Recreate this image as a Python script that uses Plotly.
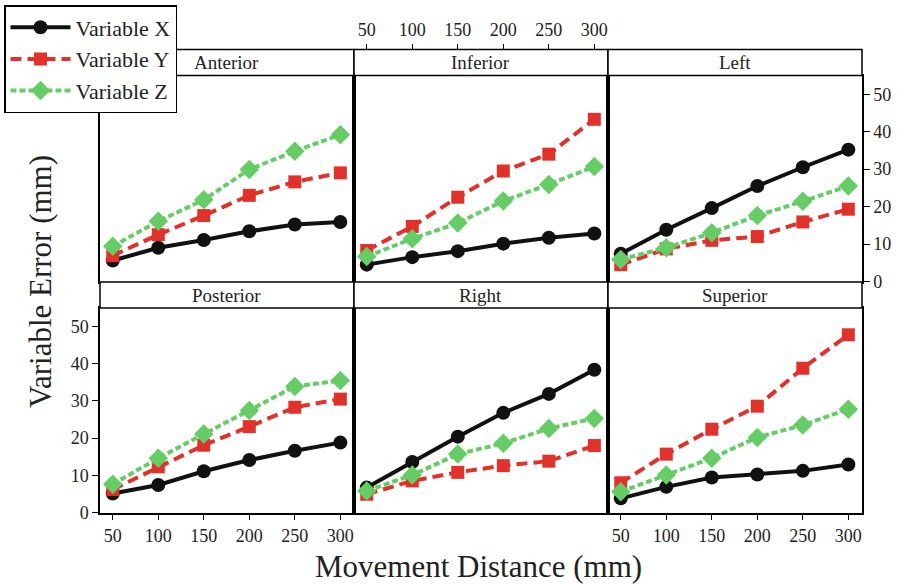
import plotly.graph_objects as go

# ---------------- data ----------------
distance = [50, 100, 150, 200, 250, 300]
x_ticks = [50, 100, 150, 200, 250, 300]
y_ticks = [0, 10, 20, 30, 40, 50]
panel_names = ["Anterior", "Inferior", "Left", "Posterior", "Right", "Superior"]
series_names = ["Variable X", "Variable Y", "Variable Z"]

anterior_x = [5.6, 9.0, 11.1, 13.4, 15.2, 15.9]
anterior_y = [6.9, 12.5, 17.6, 23.0, 26.6, 29.0]
anterior_z = [9.4, 16.1, 21.8, 29.9, 34.8, 39.2]

inferior_x = [4.5, 6.5, 8.1, 10.1, 11.7, 12.8]
inferior_y = [8.3, 14.7, 22.5, 29.5, 34.0, 43.3]
inferior_z = [6.7, 11.4, 15.6, 21.5, 25.9, 30.7]

left_x = [7.4, 13.8, 19.6, 25.5, 30.5, 35.2]
left_y = [4.5, 8.7, 11.0, 12.0, 15.9, 19.3]
left_z = [5.9, 9.0, 13.0, 17.6, 21.4, 25.5]

posterior_x = [5.1, 7.4, 11.1, 14.1, 16.6, 18.8]
posterior_y = [6.2, 12.3, 18.1, 23.1, 28.3, 30.5]
posterior_z = [7.6, 14.6, 21.1, 27.4, 33.9, 35.5]

right_x = [6.7, 13.6, 20.4, 26.8, 31.9, 38.4]
right_y = [4.9, 8.5, 10.8, 12.6, 13.8, 18.0]
right_z = [5.8, 10.1, 15.7, 18.6, 22.6, 25.3]

superior_x = [3.8, 6.9, 9.4, 10.2, 11.2, 12.9]
superior_y = [8.0, 15.7, 22.4, 28.6, 38.8, 47.8]
superior_z = [5.6, 10.1, 14.6, 20.2, 23.5, 27.8]

panel_data = [
    (anterior_x, anterior_y, anterior_z),
    (inferior_x, inferior_y, inferior_z),
    (left_x, left_y, left_z),
    (posterior_x, posterior_y, posterior_z),
    (right_x, right_y, right_z),
    (superior_x, superior_y, superior_z),
]

# ---------------- layout geometry (pixels) ----------------
W, H = 904, 584
FONT = "Liberation Serif"
col_px = [(100, 354), (354, 608), (608, 862)]
row_plot_px = [(75.5, 281.5), (308, 512.5)]
row_strip_px = [(49.5, 75.5), (282, 308)]
x_range = [36, 315]
y_range = [0, 55]


def px_x(v):
    return v / W


def px_y(v):
    return 1 - v / H


styles = [
    dict(color="#111111", dash="solid", symbol="circle", size=14),
    dict(color="#E0312A", dash="11px,6px", symbol="square", size=13),
    dict(color="#66CC66", dash="6px,3px", symbol="diamond", size=15),
]

fig = go.Figure()

for p, (name, data) in enumerate(zip(panel_names, panel_data)):
    ax = "" if p == 0 else str(p + 1)
    for s, (sname, vals) in enumerate(zip(series_names, data)):
        st = styles[s]
        fig.add_trace(go.Scatter(
            x=distance, y=vals, name=sname,
            mode="lines+markers",
            xaxis="x" + ax, yaxis="y" + ax,
            line=dict(color=st["color"], width=4, dash=st["dash"]),
            marker=dict(color=st["color"], symbol=st["symbol"], size=st["size"]),
            showlegend=(p == 0), legendgroup=sname, cliponaxis=False,
        ))

# invisible trace for the top tick axis of the middle column
fig.add_trace(go.Scatter(x=[distance[0]], y=[None], xaxis="x7", yaxis="y2",
                         showlegend=False, hoverinfo="skip", mode="markers",
                         marker=dict(opacity=0)))

layout = dict(
    width=W, height=H,
    margin=dict(l=0, r=0, t=0, b=0, autoexpand=False),
    paper_bgcolor="white", plot_bgcolor="white",
    font=dict(family=FONT, color="black", size=18),
    showlegend=True,
    legend=dict(
        x=px_x(4), y=px_y(5), xanchor="left", yanchor="top",
        bgcolor="white", bordercolor="black", borderwidth=1.5,
        font=dict(family=FONT, size=22, color="#222"),
        itemwidth=60, traceorder="grouped", tracegroupgap=0,
    ),
)

tickfont = dict(family=FONT, size=18, color="#222")
shapes = []
annotations = []

for p in range(6):
    r, c = divmod(p, 3)
    ax = "" if p == 0 else str(p + 1)
    xa = dict(
        domain=[px_x(col_px[c][0]), px_x(col_px[c][1])],
        range=x_range, anchor="y" + ax,
        showline=True, mirror=True, linecolor="black", linewidth=1.5,
        showgrid=False, zeroline=False,
        tickvals=x_ticks, ticks="", showticklabels=False, tickfont=tickfont,
    )
    ya = dict(
        domain=[px_y(row_plot_px[r][1]), px_y(row_plot_px[r][0])],
        range=y_range, anchor="x" + ax,
        showline=True, mirror=True, linecolor="black", linewidth=1.5,
        showgrid=False, zeroline=False,
        tickvals=y_ticks, ticks="", showticklabels=False, tickfont=tickfont,
    )
    if r == 1 and c in (0, 2):
        xa.update(ticks="outside", ticklen=6, tickwidth=1.3, tickcolor="black",
                  showticklabels=True, side="bottom")
    if r == 1 and c == 0:
        ya.update(ticks="outside", ticklen=6, tickwidth=1.3, tickcolor="black",
                  showticklabels=True, side="left")
    if r == 0 and c == 2:
        ya.update(ticks="outside", ticklen=6, tickwidth=1.3, tickcolor="black",
                  showticklabels=True, side="right")
    layout["xaxis" + ax] = xa
    layout["yaxis" + ax] = ya

    # strip
    x0, x1 = col_px[c]
    y0, y1 = row_strip_px[r]
    shapes.append(dict(type="rect", xref="paper", yref="paper",
                       x0=px_x(x0), x1=px_x(x1), y0=px_y(y1), y1=px_y(y0),
                       line=dict(color="black", width=1.5), fillcolor="white",
                       layer="above"))
    annotations.append(dict(text=panel_names[p], xref="paper", yref="paper",
                            x=px_x((x0 + x1) / 2), y=px_y((y0 + y1) / 2),
                            xanchor="center", yanchor="middle", showarrow=False,
                            font=dict(family=FONT, size=19, color="#222")))

layout["xaxis7"] = dict(
    overlaying="x2", anchor="free", position=px_y(49.5), side="top",
    range=x_range, tickvals=x_ticks, ticks="outside", ticklen=6, tickwidth=1.3,
    tickcolor="black", showticklabels=True, tickfont=tickfont,
    showline=False, showgrid=False, zeroline=False,
)

annotations.append(dict(text="Movement Distance (mm)", xref="paper", yref="paper",
                        x=px_x(478), y=px_y(566), xanchor="center", yanchor="middle",
                        showarrow=False, font=dict(family=FONT, size=31, color="#222")))
annotations.append(dict(text="Variable Error (mm)", xref="paper", yref="paper",
                        x=px_x(40), y=px_y(282), xanchor="center", yanchor="middle",
                        textangle=-90, showarrow=False,
                        font=dict(family=FONT, size=31, color="#222")))

layout["shapes"] = shapes
layout["annotations"] = annotations
fig.update_layout(**layout)

fig.write_html(
    "out.html",
    config={"displayModeBar": False},
    post_script="document.body.style.margin='0';document.body.style.overflow='hidden';",
)
